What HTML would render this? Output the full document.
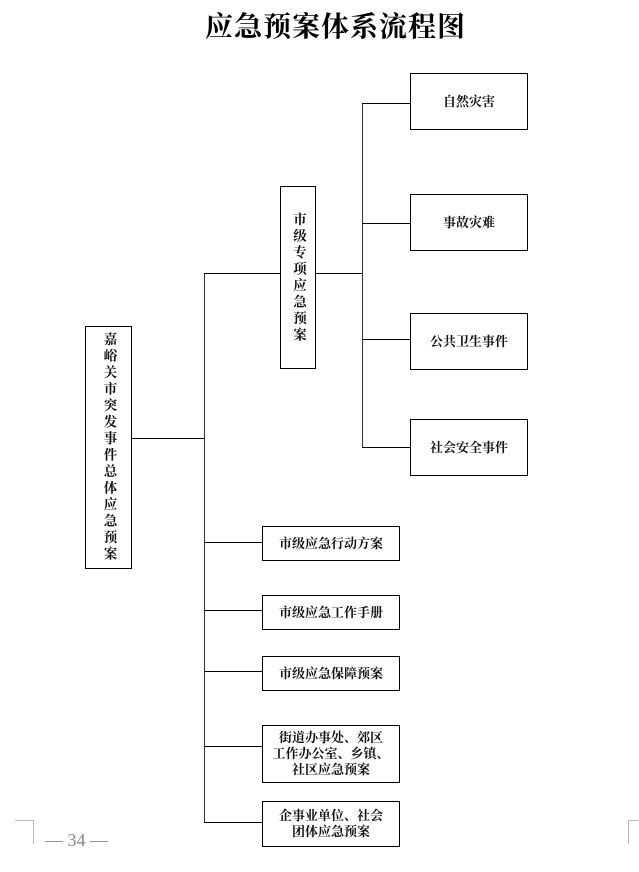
<!DOCTYPE html>
<html><head><meta charset="utf-8"><style>
body{margin:0;width:639px;height:872px;background:#fff;position:relative;overflow:hidden;font-family:"Liberation Serif","Noto Serif CJK SC",serif;}
.b{position:absolute;border:1.5px solid #000;box-sizing:border-box;display:flex;align-items:center;justify-content:center;text-align:center;font-weight:bold;font-size:13px;line-height:16px;color:#111;}
.v{writing-mode:vertical-rl;letter-spacing:3px;font-size:13.5px;}
.h{position:absolute;height:0;border-top:1.5px solid #000;}
.vl{position:absolute;width:0;border-left:1.5px solid #333;}
</style></head><body>
<div style="position:absolute;left:205px;width:270px;top:5px;font-size:28px;font-weight:bold;letter-spacing:1px;white-space:nowrap;">应急预案体系流程图</div>

<div class="b v" style="left:85px;top:326px;width:47px;height:243px;">嘉峪关市突发事件总体应急预案</div>
<div class="h" style="left:131px;top:438px;width:74px;"></div>
<div class="vl" style="left:204px;top:273px;height:550px;"></div>
<div class="h" style="left:204px;top:273px;width:77px;"></div>
<div class="b v" style="left:280px;top:186px;width:36px;height:183px;">市级专项应急预案</div>
<div class="h" style="left:315px;top:273px;width:48px;"></div>
<div class="vl" style="left:362px;top:103px;height:345px;"></div>

<div class="h" style="left:362px;top:103px;width:49px;"></div>
<div class="h" style="left:362px;top:223px;width:49px;"></div>
<div class="h" style="left:362px;top:339px;width:49px;"></div>
<div class="h" style="left:362px;top:447px;width:49px;"></div>
<div class="b" style="left:410px;top:73px;width:118px;height:57px;">自然灾害</div>
<div class="b" style="left:410px;top:194px;width:118px;height:57px;">事故灾难</div>
<div class="b" style="left:410px;top:313px;width:118px;height:57px;">公共卫生事件</div>
<div class="b" style="left:410px;top:419px;width:118px;height:57px;">社会安全事件</div>

<div class="h" style="left:204px;top:542px;width:59px;"></div>
<div class="h" style="left:204px;top:610px;width:59px;"></div>
<div class="h" style="left:204px;top:671px;width:59px;"></div>
<div class="h" style="left:204px;top:746px;width:59px;"></div>
<div class="h" style="left:204px;top:822px;width:59px;"></div>
<div class="b" style="left:262px;top:526px;width:138px;height:35px;">市级应急行动方案</div>
<div class="b" style="left:262px;top:595px;width:138px;height:35px;">市级应急工作手册</div>
<div class="b" style="left:262px;top:656px;width:138px;height:35px;">市级应急保障预案</div>
<div class="b" style="left:262px;top:725px;width:138px;height:58px;">街道办事处、郊区<br>工作办公室、乡镇、<br>社区应急预案</div>
<div class="b" style="left:262px;top:801px;width:138px;height:46px;">企事业单位、社会<br>团体应急预案</div>

<div style="position:absolute;left:15px;top:820px;width:18px;height:23px;border-top:1px solid #bbb;border-right:1px solid #bbb;"></div>
<div style="position:absolute;left:628px;top:820px;width:12px;height:23px;border-top:1px solid #bbb;border-left:1px solid #bbb;"></div>
<div style="position:absolute;left:45px;top:830px;font-size:18px;color:#888;font-family:'Liberation Serif',serif;white-space:nowrap;">— 34 —</div>
</body></html>
